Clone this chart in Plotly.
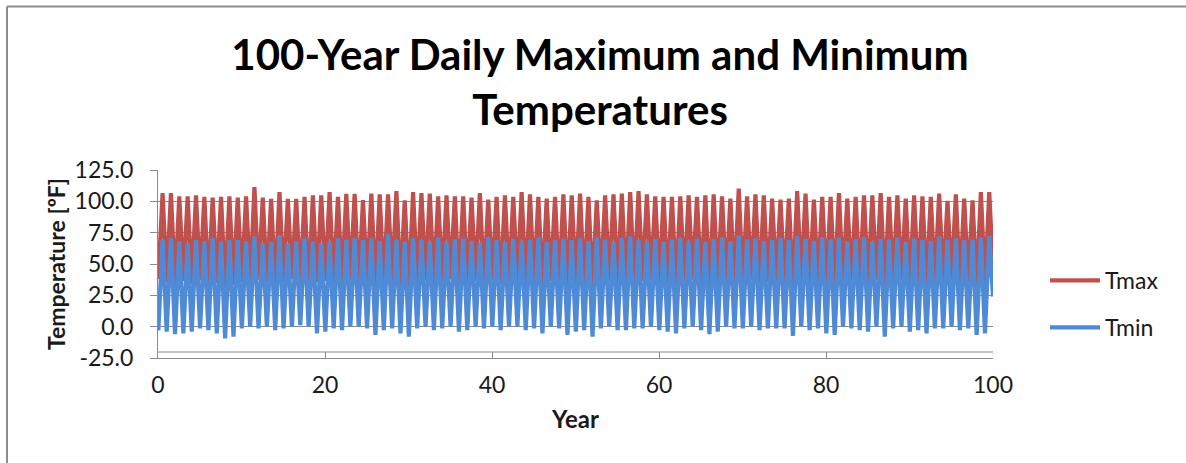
import plotly.graph_objects as go

# Annual extremes of the simulated 100-year daily record (°F)
years = list(range(100))

tmax_summer = [
    106.6, 106.6, 104.0, 104.0, 104.8, 103.5, 103.0, 103.5, 104.0, 103.0,
    104.0, 111.4, 103.0, 102.0, 107.4, 102.0, 102.0, 103.5, 104.8, 104.8,
    107.4, 103.5, 106.0, 106.0, 101.0,
    106.1, 105.6, 105.6, 108.2, 100.8, 107.4, 106.6, 106.1, 104.0, 104.8,
    104.0, 104.0, 102.9, 106.6, 101.3, 103.5, 104.8, 103.5, 107.4, 105.6,
    103.5, 102.1, 103.5, 105.6, 104.8,
    106.1, 103.5, 100.8, 104.8, 105.6, 106.1, 107.4, 108.2, 105.6, 104.0,
    103.5, 103.5, 104.0, 104.8, 103.5, 104.8, 105.6, 104.0, 102.1, 110.1,
    104.0, 105.6, 104.8, 102.1, 101.3,
    102.1, 108.2, 106.1, 101.3, 103.5, 103.5, 106.6, 102.1, 103.5, 104.8,
    104.8, 106.6, 103.5, 104.8, 102.1, 104.8, 104.0, 103.5, 106.1, 100.3,
    105.6, 102.1, 100.8, 107.4, 107.4,
]

tmax_winter = [
    38.0, 35.5, 33.0, 36.5, 34.0, 37.0, 32.5, 35.0, 31.0, 33.5,
    36.0, 34.5, 37.5, 35.0, 33.0, 36.0, 38.0, 34.0, 32.0, 35.5,
    36.5, 33.5, 35.0, 37.0, 34.0,
    35.5, 31.5, 34.0, 36.0, 32.5, 31.0, 35.0, 37.0, 34.5, 36.0,
    38.0, 33.0, 34.5, 36.5, 35.0, 37.0, 34.0, 36.0, 35.5, 33.5,
    35.0, 32.0, 36.5, 34.0, 32.5,
    34.0, 32.0, 31.5, 35.5, 36.0, 34.5, 33.0, 35.0, 36.5, 37.0,
    34.0, 33.5, 32.5, 35.5, 37.5, 34.0, 32.0, 33.5, 36.0, 35.0,
    34.5, 37.0, 34.0, 35.5, 36.0,
    35.0, 31.0, 36.5, 34.0, 35.5, 33.0, 32.0, 36.0, 35.0, 34.0,
    33.5, 37.0, 31.5, 35.0, 36.5, 33.0, 34.5, 32.5, 35.0, 36.0,
    37.0, 34.0, 35.5, 32.0, 33.0,
]

tmin_summer = [
    69.1, 70.5, 67.8, 66.5, 69.1, 67.8, 70.5, 67.8, 69.1, 69.1,
    67.8, 71.8, 66.5, 67.8, 73.1, 66.5, 67.8, 70.5, 67.8, 66.5,
    67.8, 70.5, 69.1, 70.5, 69.1,
    70.5, 68.5, 73.6, 69.1, 67.8, 70.5, 69.1, 68.0, 71.0, 67.8,
    69.5, 70.5, 68.5, 67.0, 71.5, 69.1, 67.8, 70.0, 68.5, 69.5,
    71.0, 67.5, 68.8, 70.2, 69.0,
    70.5, 68.0, 71.5, 69.5, 67.5, 70.8, 72.0, 69.0, 68.2, 70.0,
    67.8, 69.5, 71.0, 68.5, 70.2, 67.5, 69.8, 71.5, 68.0, 72.8,
    69.5, 70.5, 68.2, 69.0, 70.8,
    69.0, 72.5, 70.0, 68.5, 71.2, 69.5, 70.8, 68.0, 69.8, 71.5,
    68.2, 70.0, 69.5, 71.0, 67.8, 70.2, 69.0, 68.5, 71.8, 69.2,
    70.5, 68.8, 69.5, 70.8, 72.5,
]

tmin_winter = [
    -3.0, -4.0, -5.9, -5.3, -4.0, -1.3, -2.7, -5.3, -9.3, -8.0,
    -1.3, 0.0, -1.3, 0.0, -2.7, -1.3, 0.0, 1.3, 0.0, -5.3,
    -4.0, -1.3, -2.7, 0.0, 0.0,
    -1.3, -6.6, -2.7, -1.3, -5.3, -8.0, -1.3, 0.0, -2.7, -1.3,
    0.0, -4.0, -2.7, 0.0, -1.3, 0.0, -2.7, 0.0, 0.0, -2.7,
    -1.3, -5.3, 0.0, -1.3, -6.6,
    -4.0, -2.7, -8.0, -1.3, 0.0, -2.7, -2.7, -1.3, -1.3, 0.0,
    -2.7, -4.0, -5.3, -1.3, 0.0, -2.7, -5.9, -4.0, 0.0, -1.3,
    -1.3, 0.0, -2.7, -1.3, -1.3,
    -1.3, -7.4, 0.0, -2.7, -1.3, -5.3, -6.6, 0.0, -1.3, -2.7,
    -4.0, 0.0, -8.0, -1.3, 0.0, -4.0, -2.7, -5.3, -1.3, -1.3,
    0.0, -2.7, -1.3, -6.6, -5.3,
]

# Values on the last day of the record
tmax_end = 46.0
tmin_end = 24.0

# Season offsets within a year (fraction of the year)
WINTER_OFFSET = 0.04
SUMMER_OFFSET = 0.55

y_tick_vals = [-25, 0, 25, 50, 75, 100, 125]
y_tick_text = ["-25.0", "0.0", "25.0", "50.0", "75.0", "100.0", "125.0"]
x_tick_vals = [0, 20, 40, 60, 80, 100]


def season_series(winter, summer, end_value):
    xs, ys = [], []
    for yr, lo, hi in zip(years, winter, summer):
        xs += [yr + WINTER_OFFSET, yr + SUMMER_OFFSET]
        ys += [lo, hi]
    xs.append(100)
    ys.append(end_value)
    return xs, ys


x_max, y_max = season_series(tmax_winter, tmax_summer, tmax_end)
x_min, y_min = season_series(tmin_winter, tmin_summer, tmin_end)

RED = "#C0504D"
BLUE = "#4F8AD6"
TEXT = "#1a1a1a"
GRID = "#8a8a8a"
FONT = "Lato"

fig = go.Figure()
fig.add_trace(go.Scatter(x=x_max, y=y_max, mode="lines", name="Tmax",
                         legendgroup="a",
                         line=dict(color=RED, width=4.2)))
fig.add_trace(go.Scatter(x=x_min, y=y_min, mode="lines", name="Tmin",
                         legendgroup="b",
                         line=dict(color=BLUE, width=4.2)))

# Pixel geometry of the plot area
W, H = 1186, 463
L, R, T, B = 158, 193, 170, 105
pw, ph = W - L - R, H - T - B


def px(xp):
    return (xp - L) / pw


def py(yp):
    return (H - B - yp) / ph


fig.update_layout(
    width=W, height=H,
    margin=dict(l=L, r=R, t=T, b=B),
    paper_bgcolor="white", plot_bgcolor="white",
    font=dict(family=FONT, color=TEXT, size=18),
    title=dict(
        text="<b>100-Year Daily Maximum and Minimum<br>Temperatures</b>",
        x=600 / W, xanchor="center",
        y=1 - 70 / H, yanchor="middle", yref="container",
        font=dict(family=FONT, size=42, color="black"),
    ),
    showlegend=True,
    legend=dict(
        x=px(1045), xanchor="left", y=py(304), yanchor="middle",
        font=dict(family=FONT, size=23, color=TEXT),
        tracegroupgap=14, itemwidth=50, bgcolor="rgba(0,0,0,0)",
    ),
    xaxis=dict(
        range=[0, 100], tickvals=x_tick_vals,
        showgrid=False, zeroline=False,
        showline=True, linecolor=GRID, linewidth=1,
        ticks="inside", ticklen=6, tickcolor=GRID,
        ticklabelstandoff=6,
        tickfont=dict(size=23, color=TEXT),
        title=dict(text="<b>Year</b>", standoff=14,
                   font=dict(size=24, color=TEXT)),
    ),
    yaxis=dict(
        range=[-25, 125], tickvals=y_tick_vals, ticktext=y_tick_text,
        showgrid=True, gridcolor=GRID, gridwidth=1,
        zeroline=False,
        showline=True, linecolor=GRID, linewidth=1,
        ticks="outside", ticklen=7, tickcolor=GRID,
        ticklabelstandoff=12,
        tickfont=dict(size=23, color=TEXT),
        title=dict(text="<b>Temperature [ºF]</b>", standoff=2,
                   font=dict(size=23, color=TEXT)),
    ),
)

# Upper edge of the category axis band
fig.add_shape(type="line", xref="paper", yref="paper",
              x0=0, x1=1, y0=py(352), y1=py(352),
              line=dict(color=GRID, width=1))
# Chart frame (top and left edges)
fig.add_shape(type="line", xref="paper", yref="paper",
              x0=px(7), x1=px(W), y0=py(6.5), y1=py(6.5),
              line=dict(color="#8c8c8c", width=2))
fig.add_shape(type="line", xref="paper", yref="paper",
              x0=px(7), x1=px(7), y0=py(6.5), y1=py(H),
              line=dict(color="#8c8c8c", width=2))

fig.write_html("out.html")
